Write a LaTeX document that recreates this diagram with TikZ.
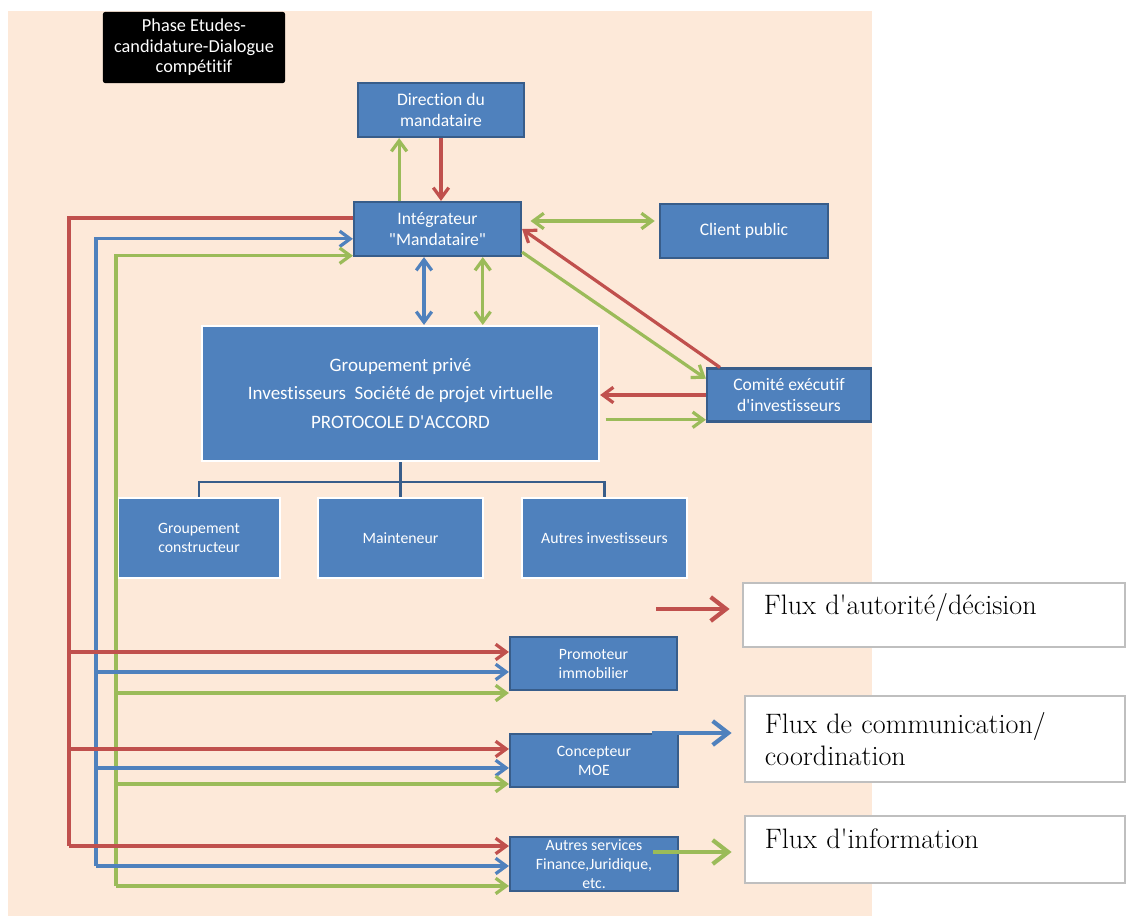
\documentclass[tikz,border=0pt]{standalone}
\usepackage{fontspec}
\newfontfamily\calibri[Ligatures=NoCommon]{Carlito}
\usetikzlibrary{arrows.meta}

\definecolor{peche}{HTML}{FDE9D9}
\definecolor{rouge}{HTML}{C0504D}
\definecolor{bleu}{HTML}{4F81BD}
\definecolor{vert}{HTML}{9BBB59}
\definecolor{bord}{HTML}{385D8A}
\definecolor{gris}{HTML}{BFBFBF}

\begin{document}
\begin{tikzpicture}[x=0.025cm, y=-0.025cm, >={Straight Barb[length=7.5pt,width=11pt]},
  box/.style={draw=bord, line width=1.5pt, fill=bleu, text=white, align=center,
    inner sep=1pt, font=\calibri\fontsize{12.5}{14.5}\selectfont},
  boxw/.style={box, draw=white},
  petit/.style={font=\calibri\fontsize{11.2}{13.5}\selectfont},
  noir/.style={fill=black, rounded corners=1.5pt, text=white, align=center,
    font=\calibri\fontsize{13}{14.5}\selectfont},
  legende/.style={draw=gris, line width=1pt, fill=white, text width=8.5cm,
    align=left, font=\fontsize{20}{23}\selectfont},
  autorite/.style={draw=rouge, line width=2.3pt},
  comm/.style={draw=bleu, line width=2.3pt},
  info/.style={draw=vert, line width=2.3pt},
  arbre/.style={draw=bord, line width=1.8pt},
  legfl/.style={line width=3pt, shorten >=9pt, -{Straight Barb[length=11pt,width=17pt]}}]
\useasboundingbox (0,0) rectangle (1129,916);

% Background
\fill[peche] (8,11) rectangle (872,916);

% Boxes
\node[noir, minimum width=4.55cm, minimum height=1.775cm] (phase) at (194,47.5)
  {Phase Etudes-\\candidature-Dialogue\\compétitif};
\node[box, minimum width=4.15cm, minimum height=1.35cm] (dir) at (441,110) {Direction du\\mandataire};
\node[box, minimum width=4.175cm, minimum height=1.35cm] (integ) at (437.5,229) {Intégrateur\\"Mandataire"};
\node[box, minimum width=4.2cm, minimum height=1.35cm] (client) at (744,231) {Client public};
\node[box, minimum width=4.1cm, minimum height=1.325cm] (comite) at (789,395) {Comité exécutif\\d'investisseurs};
\node[boxw, minimum width=9.925cm, minimum height=3.375cm, font=\calibri\fontsize{13.5}{20.5}\selectfont]
  (grp) at (400.5,393.5) {Groupement privé\\Investisseurs\ \ Société de projet virtuelle\\PROTOCOLE D'ACCORD};
\node[boxw, petit, minimum width=4.05cm, minimum height=2cm] (gc) at (199,538) {Groupement\\constructeur};
\node[boxw, petit, minimum width=4.125cm, minimum height=2cm] (maint) at (400.5,538) {Mainteneur};
\node[boxw, petit, minimum width=4.125cm, minimum height=2cm] (autinv) at (604.5,538) {Autres investisseurs};
\node[box, petit, minimum width=4.175cm, minimum height=1.325cm] (promo) at (593.5,663.5) {Promoteur\\immobilier};
\node[box, petit, minimum width=4.2cm, minimum height=1.325cm] (concep) at (594,760.5) {Concepteur\\MOE};
\node[box, petit, inner ysep=0pt, minimum width=4.2cm, minimum height=1.35cm] (autres) at (594,864)
  {Autres services\\Finance,Juridique,\\etc.};

% Legend boxes
\node[legende, text depth=15pt, minimum width=9.55cm, minimum height=1.6cm] (l1) at (934,615)
  {Flux d\textquotesingle autorité/décision};
\node[legende, minimum width=9.5cm, minimum height=2.15cm] (l2) at (935,739) {Flux de communication/\\coordination};
\node[legende, text depth=15pt, minimum width=9.5cm, minimum height=1.675cm] (l3) at (935,849.5)
  {Flux d\textquotesingle information};

% Direction <-> Integrateur
\coordinate (ug) at ([xshift=-27.3pt]integ.north);
\draw[info, ->] (ug) -- (ug |- dir.south);
\coordinate (dr) at (dir.south);
\draw[autorite, ->] (dr) -- (dr |- integ.north);

% Integrateur <-> Client public
\coordinate (ic) at ([yshift=5.7pt]integ.east);
\draw[info, <->, shorten <=6pt, shorten >=3pt] (ic) -- (ic -| client.west);

% Integrateur <-> Groupement prive
\coordinate (vb) at ([xshift=-9.6pt]integ.south);
\draw[comm, <->] (vb) -- (vb |- grp.north);
\coordinate (vg) at ([xshift=32.2pt]integ.south);
\draw[info, <->] (vg) -- (vg |- grp.north);

% Comite executif
\draw[autorite, ->] ([xshift=10pt]comite.north west) -- (integ.east);
\draw[info, ->] ([yshift=3.5pt]integ.south east) -- ([yshift=-8pt]comite.north west);
\draw[autorite, ->] (comite.west) -- (comite.west -| grp.east);
\coordinate (gv) at ([yshift=2pt]comite.south west);
\draw[info, ->, shorten <=4pt] (gv -| grp.east) -- (gv);

% Tree under Groupement prive
\coordinate (tj) at (400.5,482);
\draw[arbre] (grp.south) -- (tj);
\draw[arbre] (gc.north) |- (tj) -| (autinv.north);
\draw[arbre] (maint.north) -- (tj);

% Trunks on the left
\coordinate (rB) at (69,846);
\coordinate (bB) at (96,866);
\coordinate (gB) at (116,886);
\draw[autorite] ([yshift=7.8pt]integ.west) -| (rB);
\draw[comm, ->] (bB) |- ([yshift=-7pt]integ.west);
\draw[info, ->] (gB) |- ([yshift=-19pt]integ.west);

% Branches to the service boxes
\foreach \b/\dr/\db/\dg in {promo/8.2/-6/-21, concep/8.2/-5.3/-16.7, autres/12.8/-1.4/-15.6} {
  \coordinate (tr) at ([yshift=\dr pt]\b.west);
  \draw[autorite, ->] (tr -| rB) -- (tr);
  \coordinate (tb) at ([yshift=\db pt]\b.west);
  \draw[comm, ->] (tb -| bB) -- (tb);
  \coordinate (tg) at ([yshift=\dg pt]\b.west);
  \draw[info, ->] (tg -| gB) -- (tg);
}

% Legend arrows
\coordinate (la) at (656,609);
\draw[autorite, legfl] (la) -- (la -| l1.west);
\coordinate (lb) at (652,733);
\draw[comm, legfl] (lb) -- (lb -| l2.west);
\coordinate (lc) at (653,852);
\draw[info, legfl] (lc) -- (lc -| l3.west);
\end{tikzpicture}
\end{document}
